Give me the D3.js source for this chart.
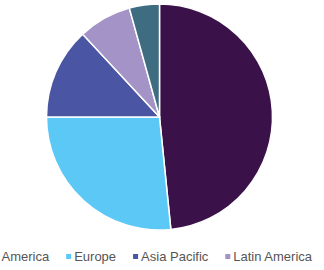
<!DOCTYPE html>
<html>
<head>
<meta charset="utf-8">
<script src="https://d3js.org/d3.v7.min.js"></script>
<style>
  body { margin: 0; background: #fff; }
  svg { display: block; }
</style>
</head>
<body>
<svg id="vis"></svg>
<script>
// regions and share of total (%)
var regions = ["North America", "Europe", "Asia Pacific", "Latin America", "MEA"];
var shares = [48.4, 26.6, 13.1, 7.6, 4.3];
var colors = ["#3a1249", "#5cc8f5", "#4a55a3", "#a493c6", "#3e6d82"];

var width = 324, height = 270;
var svg = d3.select("#vis").attr("width", width).attr("height", height);

var color = d3.scaleOrdinal().domain(regions).range(colors);

var pie = d3.pie().sort(null).value(function(d, i) { return shares[i]; });
var arc = d3.arc().innerRadius(0).outerRadius(113);

var g = svg.append("g").attr("transform", "translate(159.5,117)");
g.selectAll("path")
  .data(pie(regions))
  .enter().append("path")
  .attr("d", arc)
  .attr("fill", function(d) { return color(d.data); })
  .attr("stroke", "#fff")
  .attr("stroke-width", 1.5);

// legend, centred on the page (it runs off both sides)
var legend = svg.append("g");
var items = legend.selectAll("g").data(regions).enter().append("g");
items.append("rect")
  .attr("width", 5).attr("height", 5)
  .attr("y", 254)
  .attr("fill", function(d) { return color(d); });
items.append("text")
  .attr("x", 8).attr("y", 261)
  .attr("font-family", "Liberation Sans, Arial, sans-serif")
  .attr("font-size", 13)
  .attr("fill", "#555")
  .text(function(d) { return d; });

var x = 0;
items.each(function() {
  var w = 8 + d3.select(this).select("text").node().getComputedTextLength();
  d3.select(this).attr("transform", "translate(" + x + ",0)");
  x += w + 17;
});
var total = x - 17;
legend.attr("transform", "translate(" + ((width - total) / 2) + ",0)");
</script>
</body>
</html>
